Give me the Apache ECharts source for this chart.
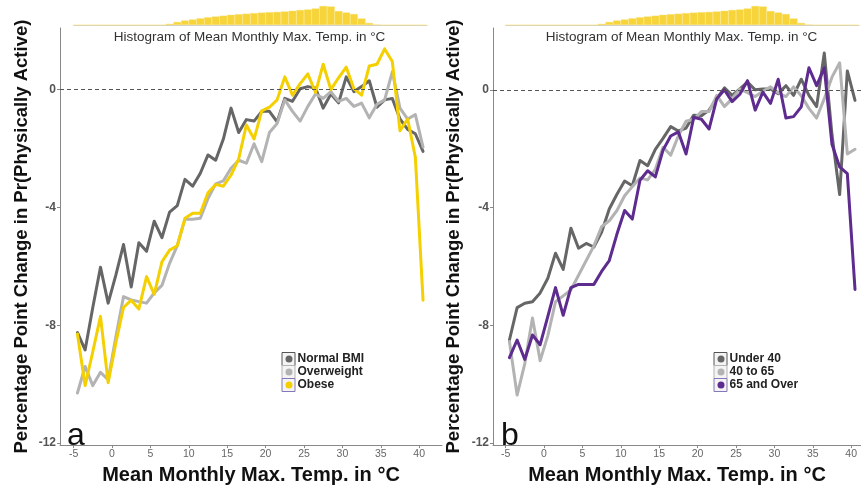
<!DOCTYPE html>
<html><head><meta charset="utf-8">
<script src="https://cdn.jsdelivr.net/npm/echarts@6/dist/echarts.min.js"></script>
<style>html,body{margin:0;padding:0;background:#fff}#c{width:861px;height:490px}</style>
</head><body><div id="c"></div>
<script>
// ---- data ----
const temps = [-4.5,-3.5,-2.5,-1.5,-0.5,0.5,1.5,2.5,3.5,4.5,5.5,6.5,7.5,8.5,9.5,10.5,11.5,12.5,13.5,14.5,15.5,16.5,17.5,18.5,19.5,20.5,21.5,22.5,23.5,24.5,25.5,26.5,27.5,28.5,29.5,30.5,31.5,32.5,33.5,34.5,35.5,36.5,37.5,38.5,39.5,40.5];
const xTicks = [-5,0,5,10,15,20,25,30,35,40];
const yTicks = [-12,-8,-4,0];

const normalBMI = [-8.25,-8.84,-7.4,-6.03,-7.25,-6.3,-5.26,-6.7,-5.2,-5.49,-4.47,-5.03,-4.16,-3.94,-3.05,-3.28,-2.84,-2.22,-2.4,-1.68,-0.63,-1.46,-1.02,-1.07,-0.74,-0.74,-1.1,-0.3,-0.4,0.03,0.1,0.05,-0.63,-0.15,-0.45,0.43,-0.07,0.1,0.3,-0.6,-0.35,-0.3,-1.0,-1.35,-1.5,-2.1];
const overweight = [-10.3,-9.4,-10.05,-9.6,-9.85,-8.4,-7.03,-7.14,-7.2,-7.25,-6.9,-6.65,-5.9,-5.3,-4.4,-4.4,-4.37,-3.7,-3.2,-3.1,-2.67,-2.4,-2.5,-1.84,-2.45,-1.46,-1.15,-0.35,-0.74,-1.07,-0.57,-0.15,-0.3,-0.07,-0.4,-0.3,-0.57,-0.46,-0.96,-0.5,-0.35,0.6,-0.63,-1.0,-0.85,-1.95];
const obese = [-8.3,-10.05,-8.9,-7.7,-9.95,-8.6,-7.4,-7.15,-7.45,-6.35,-6.95,-5.85,-5.45,-5.3,-4.37,-4.2,-4.2,-3.5,-3.22,-3.28,-2.9,-2.35,-1.2,-1.68,-0.72,-0.6,-0.35,0.43,-0.19,0.2,0.53,-0.1,0.86,0.0,0.4,0.76,0.03,-0.19,0.8,0.86,1.38,0.95,-1.4,-1.0,-2.3,-7.15];

const under40 = [-8.5,-7.4,-7.25,-7.2,-6.9,-6.4,-5.55,-6.1,-4.7,-5.38,-5.22,-5.34,-4.84,-4.05,-3.55,-3.1,-3.26,-2.4,-2.58,-2.02,-1.65,-1.25,-1.4,-1.3,-0.86,-0.88,-0.69,-0.3,0.07,-0.19,0.03,0.26,0.0,0.03,0.03,-0.13,0.14,-0.19,0.36,-0.19,-0.57,1.25,-1.52,-3.56,0.64,-0.36];
const age40to65 = [-8.55,-10.37,-9.3,-7.75,-9.2,-8.35,-7.2,-7.0,-6.8,-6.3,-5.8,-5.3,-4.65,-4.45,-4.1,-3.6,-3.29,-3.0,-3.06,-2.7,-1.95,-2.22,-1.56,-1.07,-1.0,-0.74,-0.74,-0.19,-0.57,-0.3,0.03,-0.1,-0.23,-0.05,0.1,-0.1,-0.23,0.1,-0.2,-0.63,-0.96,-0.3,0.43,0.92,-2.18,-2.02];
const age65plus = [-9.1,-8.5,-9.16,-8.33,-8.66,-7.7,-6.72,-7.66,-6.72,-6.61,-6.61,-6.61,-6.17,-5.8,-4.9,-4.1,-4.39,-3.07,-2.75,-2.96,-2.05,-1.57,-1.43,-2.18,-0.93,-1.0,-1.33,-0.3,0.0,-0.4,-0.15,0.31,-0.69,-0.08,-0.46,0.36,-0.96,-0.91,-0.58,0.75,0.14,0.75,-1.85,-2.62,-2.85,-6.78];

// histogram of observations per temperature bin (relative heights)
const histCounts = [0,0,0,0,0,0,0,0,0,0,0,0,1.2,3,4.5,5.5,6.7,7.7,8.5,9.3,10.2,10.8,11.3,11.9,12.4,12.8,13.1,13.5,14.2,15,15.5,16.5,19,18.5,14,12.5,11,6.5,2,0.5,0,0,0,0,0,0];

const histTitle = 'Histogram of Mean Monthly Max. Temp. in °C';
const xTitle = 'Mean Monthly Max. Temp. in °C';
const yTitle = 'Percentage Point Change in Pr(Physically Active)';
const legendA = ['Normal BMI','Overweight','Obese'];
const legendB = ['Under 40','40 to 65','65 and Over'];

const FONT = 'Liberation Sans, Arial, Helvetica, sans-serif';
const C_DARK = '#666666', C_LIGHT = '#b3b3b3', C_YEL = '#f5d000', C_PUR = '#5e2b8e';

function pairs(vals){ return temps.map((t,i)=>[t, vals[i]]); }

function mainX(gi, min, max){
  return {
    gridIndex: gi, type: 'value', min: min, max: max,
    axisLine: {show: true, onZero: false, lineStyle: {color: '#888', width: 1}},
    axisTick: {show: true, length: 3, lineStyle: {color: '#888'}, customValues: xTicks},
    axisLabel: {show: true, color: '#666', fontSize: 10.5, margin: 4, fontFamily: FONT, customValues: xTicks},
    splitLine: {show: false},
    name: xTitle, nameLocation: 'middle', nameGap: 16,
    nameTextStyle: {fontSize: 20, fontWeight: 'bold', color: '#111', fontFamily: FONT}
  };
}
function mainY(gi, min, max, gap){
  return {
    gridIndex: gi, type: 'value', min: min, max: max,
    axisLine: {show: true, onZero: false, lineStyle: {color: '#888', width: 1}},
    axisTick: {show: true, length: 3, lineStyle: {color: '#888'}, customValues: yTicks},
    axisLabel: {show: true, color: '#555', fontSize: 12, fontWeight: 'bold', margin: 4, fontFamily: FONT, customValues: yTicks},
    splitLine: {show: false},
    name: yTitle, nameLocation: 'middle', nameGap: gap,
    nameTextStyle: {fontSize: 18.5, fontWeight: 'bold', color: '#111', fontFamily: FONT}
  };
}
function histX(gi){
  return {
    gridIndex: gi, type: 'category', data: temps.map(String), boundaryGap: true,
    axisLine: {show: true, onZero: false, lineStyle: {color: '#cfcfcf', width: 1}},
    axisTick: {show: false}, axisLabel: {show: false}, splitLine: {show: false}
  };
}
function histY(gi){
  return {gridIndex: gi, type: 'value', min: 0, max: 20, show: false};
}
function line(name, vals, color, xi, withZero){
  const s = {
    name: name, type: 'line', xAxisIndex: xi, yAxisIndex: xi,
    data: pairs(vals), symbol: 'none', showSymbol: false,
    itemStyle: {color: color},
    lineStyle: {color: color, width: 3, join: 'round', cap: 'round'},
    emphasis: {disabled: true}
  };
  if (withZero) {
    s.markLine = {
      silent: true, symbol: ['none','none'], label: {show: false},
      lineStyle: {type: [4,3], color: '#555', width: 1},
      data: [{yAxis: 0}], animation: false
    };
  }
  return s;
}
function hist(xi){
  return {
    type: 'bar', xAxisIndex: xi, yAxisIndex: xi, data: histCounts,
    barCategoryGap: '0%', silent: true,
    itemStyle: {color: '#f6d43a', borderColor: '#f9e27a', borderWidth: 0.4}
  };
}
function legend(items, left){
  return {
    data: items, orient: 'vertical', left: left, top: 352.5, padding: 0,
    itemWidth: 7, itemHeight: 7, itemGap: 0, icon: 'circle',
    selectedMode: false,
    textStyle: {fontSize: 12, fontWeight: 'bold', color: '#222', lineHeight: 13, fontFamily: FONT}
  };
}
function keyBoxes(x){
  const cols = ['#555555', '#b3b3b3', '#8577b8'];
  return cols.map((c,i)=>({
    type: 'rect', z: 1, shape: {x: x, y: 352.5 + 13*i, width: 13, height: 13},
    style: {fill: '#f4f4f4', stroke: c, lineWidth: 1}
  }));
}
function txt(x, y, text, font, fill, align, valign, rot){
  return {type: 'text', z: 5, x: x, y: y, rotation: rot || 0,
    style: {text: text, font: font, fill: fill, align: align, verticalAlign: valign}};
}

const chart = echarts.init(document.getElementById('c'), null, {renderer: 'canvas'});
chart.setOption({
  animation: false,
  backgroundColor: '#ffffff',
  textStyle: {fontFamily: FONT},
  grid: [
    {left: 60, top: 28, width: 382, height: 427},
    {left: 493, top: 28, width: 368, height: 425},
    {left: 73.6, top: 5, width: 353.3, height: 20},
    {left: 505.6, top: 5, width: 353.3, height: 20}
  ],
  xAxis: [mainX(0, -6.77, 42.97), mainX(1, -6.64, 41.28), histX(2), histX(3)],
  yAxis: [mainY(0, -12.07, 2.09, 29), mainY(1, -12.07, 2.1, 30), histY(2), histY(3)],
  legend: [legend(legendA, 285.5), legend(legendB, 717.5)],
  graphic: [].concat(
    keyBoxes(282), keyBoxes(714),
    [
      txt(249.5, 37, histTitle, '13.5px ' + FONT, '#333', 'center', 'middle'),
      txt(681.5, 37, histTitle, '13.5px ' + FONT, '#333', 'center', 'middle'),
      txt(67, 452, 'a', '32px ' + FONT, '#111', 'left', 'bottom'),
      txt(501, 452, 'b', '32px ' + FONT, '#111', 'left', 'bottom')
    ]
  ),
  series: [
    hist(2), hist(3),
    line('Normal BMI', normalBMI, C_DARK, 0, true),
    line('Overweight', overweight, C_LIGHT, 0, false),
    line('Obese', obese, C_YEL, 0, false),
    line('Under 40', under40, C_DARK, 1, true),
    line('40 to 65', age40to65, C_LIGHT, 1, false),
    line('65 and Over', age65plus, C_PUR, 1, false)
  ]
});
</script>
</body></html>
